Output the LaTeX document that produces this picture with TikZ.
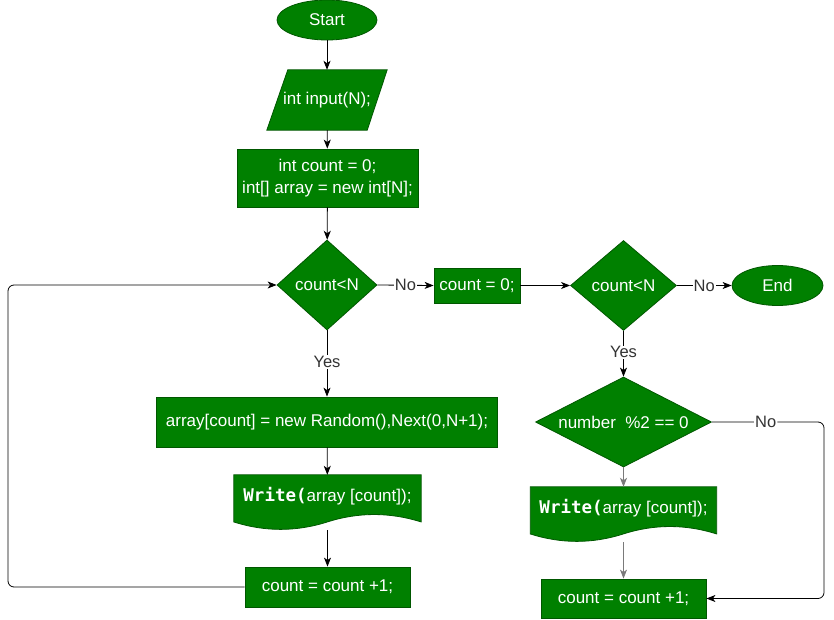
\documentclass[tikz,border=0pt]{standalone}
\usepackage{fontspec}
\setmainfont{Liberation Sans}
\setmonofont{DejaVu Sans Mono}
\usetikzlibrary{shapes.geometric,arrows.meta,calc,backgrounds}
\definecolor{gfill}{HTML}{008000}
\definecolor{gline}{HTML}{005700}
\definecolor{lbltext}{HTML}{333333}
\definecolor{lgray}{HTML}{7A7A7A}
\tikzset{
  base/.style={inner sep=0pt, text=white, font=\fontsize{17}{21.5}\selectfont, align=center},
  term/.style={base, ellipse, fill=gfill, draw=gline, line width=0.8pt, minimum width=#1, minimum height=40pt},
  proc/.style 2 args={base, rectangle, fill=gfill, draw=gline, line width=0.8pt, minimum width=#1, minimum height=#2},
  diam/.style 2 args={base, diamond, fill=gfill, draw=gline, line width=0.8pt, minimum width=#1, minimum height=#2},
  plain/.style 2 args={base, rectangle, minimum width=#1, minimum height=#2},
  shapefill/.style={fill=gfill, draw=gline, line width=0.8pt},
  conn/.style={draw=black, line width=0.8pt, -{Stealth[length=9pt,width=7pt,inset=2.5pt]}},
  gconn/.style={conn, draw=lgray},
  lbl/.style={fill=white, text=lbltext, inner sep=1pt, font=\fontsize{16.5}{18}\selectfont}
}
\newcommand{\wrtext}{\raisebox{6pt}[\height][\depth]{{\ttfamily\bfseries\fontsize{17.5}{20}\selectfont Write(}array [count]);}}
\newcommand{\docshape}[3]{%
  \filldraw[shapefill] (#1.north west) -- (#1.north east) -- ($(#1.south east)+(0,-0.15*#3)$)
    .. controls ($(#1.south west)+(0.8333*#2,-0.33*#3)$) and ($(#1.south west)+(0.6667*#2,-0.33*#3)$) .. ($(#1.south west)+(0.5*#2,-0.15*#3)$)
    .. controls ($(#1.south west)+(0.3333*#2,0.03*#3)$) and ($(#1.south west)+(0.1667*#2,0.03*#3)$) .. ($(#1.south west)+(0,-0.15*#3)$) -- cycle;}
\begin{document}
\begin{tikzpicture}[x=1pt,y=-1pt]
\useasboundingbox (0,0) rectangle (834,620);
% left column
\node[term=100pt] (start) at (327,20) {Start};
\node[plain={120pt}{60pt}] (inp) at (327,100) {int input(N);};
\node[proc={181pt}{58pt}] (init) at (327.5,178) {int count = 0;\\int[] array = new int[N];};
\node[diam={100pt}{90pt}] (c1) at (327,285) {\makebox[0pt]{count<N}};
\node[proc={341pt}{50pt}] (rnd) at (327,422) {array[count] = new Random(),Next(0,N+1);};
\node[plain={187pt}{55pt}] (w1) at (327.5,502.5) {\wrtext};
\node[proc={165pt}{40pt}] (inc1) at (327.5,587) {count = count +1;};
% middle / right
\node[proc={86pt}{35pt}] (zero) at (477,285.5) {count = 0;};
\node[diam={106pt}{90pt}] (c2) at (623.5,285.5) {\makebox[0pt]{count<N}};
\node[term=91pt] (fin) at (777.5,285.5) {End};
\node[diam={176pt}{90pt}] (par) at (623.5,422) {\makebox[0pt]{number\ \ \%2 == 0}};
\node[plain={186pt}{55pt}] (w2) at (623.5,514.5) {\wrtext};
\node[proc={165pt}{39pt}] (inc2) at (623.5,598.5) {count = count +1;};
\begin{scope}[on background layer]
  \filldraw[shapefill] ($(inp.north west)+(21,0)$) -- (inp.north east) -- ($(inp.south east)+(-20,0)$) -- (inp.south west) -- cycle;
  \docshape{w1}{187}{55}
  \docshape{w2}{186}{55}
\end{scope}
\coordinate (lb) at (8,587);
\coordinate (lt) at (8,285);
\coordinate (rt) at (824,422);
\coordinate (rb) at (824,598.5);
% connectors
\draw[conn] (start) -- (inp);
\draw[conn] (inp) -- (init);
\draw[conn] (init) -- (c1);
\draw[conn] (c1.south) -- node[lbl,pos=0.48]{Yes} (rnd.north);
\draw[conn] (rnd) -- (w1);
\draw[conn] (w1) -- (inc1);
\draw[conn,rounded corners=6pt] (inc1.west) -- (lb) -- (lt) -- (c1.west);
\draw[conn] (c1.east) -- node[lbl,pos=0.5]{No} (zero.west);
\draw[conn] (zero.east) -- (c2.west);
\draw[conn] (c2.east) -- node[lbl,pos=0.5]{No} (fin.west);
\draw[conn] (c2.south) -- node[lbl,pos=0.47]{Yes} (par.north);
\draw[gconn] (par) -- (w2);
\draw[gconn] (w2) -- (inc2);
\draw[conn,rounded corners=6pt] (par.east) -- node[lbl,pos=0.48]{No} (rt) -- (rb) -- (inc2.east);
\end{tikzpicture}
\end{document}
